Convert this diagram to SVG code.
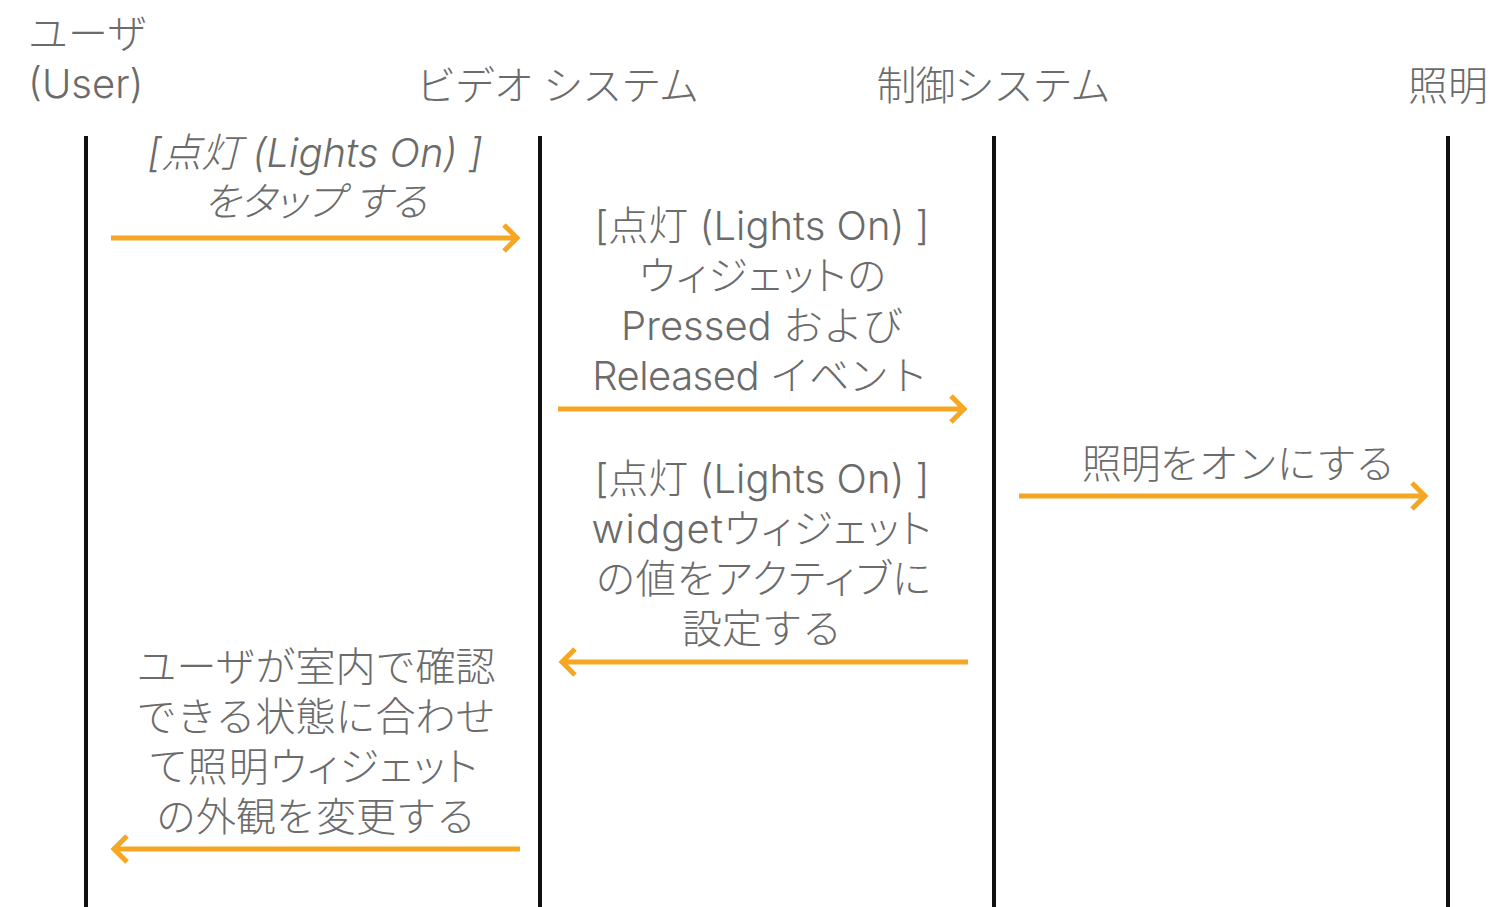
<svg xmlns="http://www.w3.org/2000/svg" width="1492" height="907" viewBox="0 0 1492 907">
<style>
.t{font-family:"Inter","Noto Sans CJK JP",sans-serif;font-size:40px;font-weight:300;fill:#6b6b6b}
.c{text-anchor:middle}
.i{font-style:italic}
.p{font-feature-settings:"palt";letter-spacing:1.2px}
.life{stroke:#111;stroke-width:4;fill:none}
.msg{stroke:#F5A623;stroke-width:5;fill:none}
</style>
<rect width="1492" height="907" fill="#fff"/>
<g id="user">
<text class="t" x="28" y="48">ユーザ</text>
<text class="t" x="28" y="98">(User)</text>
<line class="life" x1="86" y1="136" x2="86" y2="907"/>
</g>
<g id="video">
<text class="t c" x="557" y="100" letter-spacing="-1">ビデオ システム</text>
<line class="life" x1="540" y1="136" x2="540" y2="907"/>
</g>
<g id="control">
<text class="t c" x="993" y="100" letter-spacing="-1">制御システム</text>
<line class="life" x1="994" y1="136" x2="994" y2="907"/>
</g>
<g id="light">
<text class="t c" x="1448" y="100">照明</text>
<line class="life" x1="1448" y1="136" x2="1448" y2="907"/>
</g>
<g id="connectors">
<path class="msg" d="M111,238 H516 M504,225 L517,238 L504,251"/>
<text class="t c i" x="315" y="167">[点灯 (Lights On) ]</text>
<text class="t c i" x="315" y="216" style="font-feature-settings:'palt'">をタップ する</text>
<path class="msg" d="M558,409 H963 M951,396 L964,409 L951,422"/>
<text class="t c" x="762" y="240">[点灯 (Lights On) ]</text>
<text class="t c p" x="763" y="290">ウィジェットの</text>
<text class="t c" x="762" y="340">Pressed および</text>
<text class="t c" x="760" y="390" letter-spacing="-0.5">Released イベント</text>
<path class="msg" d="M1019,496 H1424 M1412,483 L1425,496 L1412,509"/>
<text class="t c" x="1238" y="478" letter-spacing="-1">照明をオンにする</text>
<path class="msg" d="M968,662 H563 M575,649 L562,662 L575,675"/>
<text class="t c" x="762" y="493">[点灯 (Lights On) ]</text>
<text class="t c p" x="762" y="543">widgetウィジェット</text>
<text class="t c p" x="764" y="593">の値をアクティブに</text>
<text class="t c" x="762" y="643">設定する</text>
<path class="msg" d="M520,849 H115 M127,836 L114,849 L127,862"/>
<text class="t c" x="316" y="681">ユーザが室内で確認</text>
<text class="t c" x="316" y="731">できる状態に合わせ</text>
<text class="t c p" x="314" y="781">て照明ウィジェット</text>
<text class="t c" x="316" y="831">の外観を変更する</text>
</g>
</svg>
